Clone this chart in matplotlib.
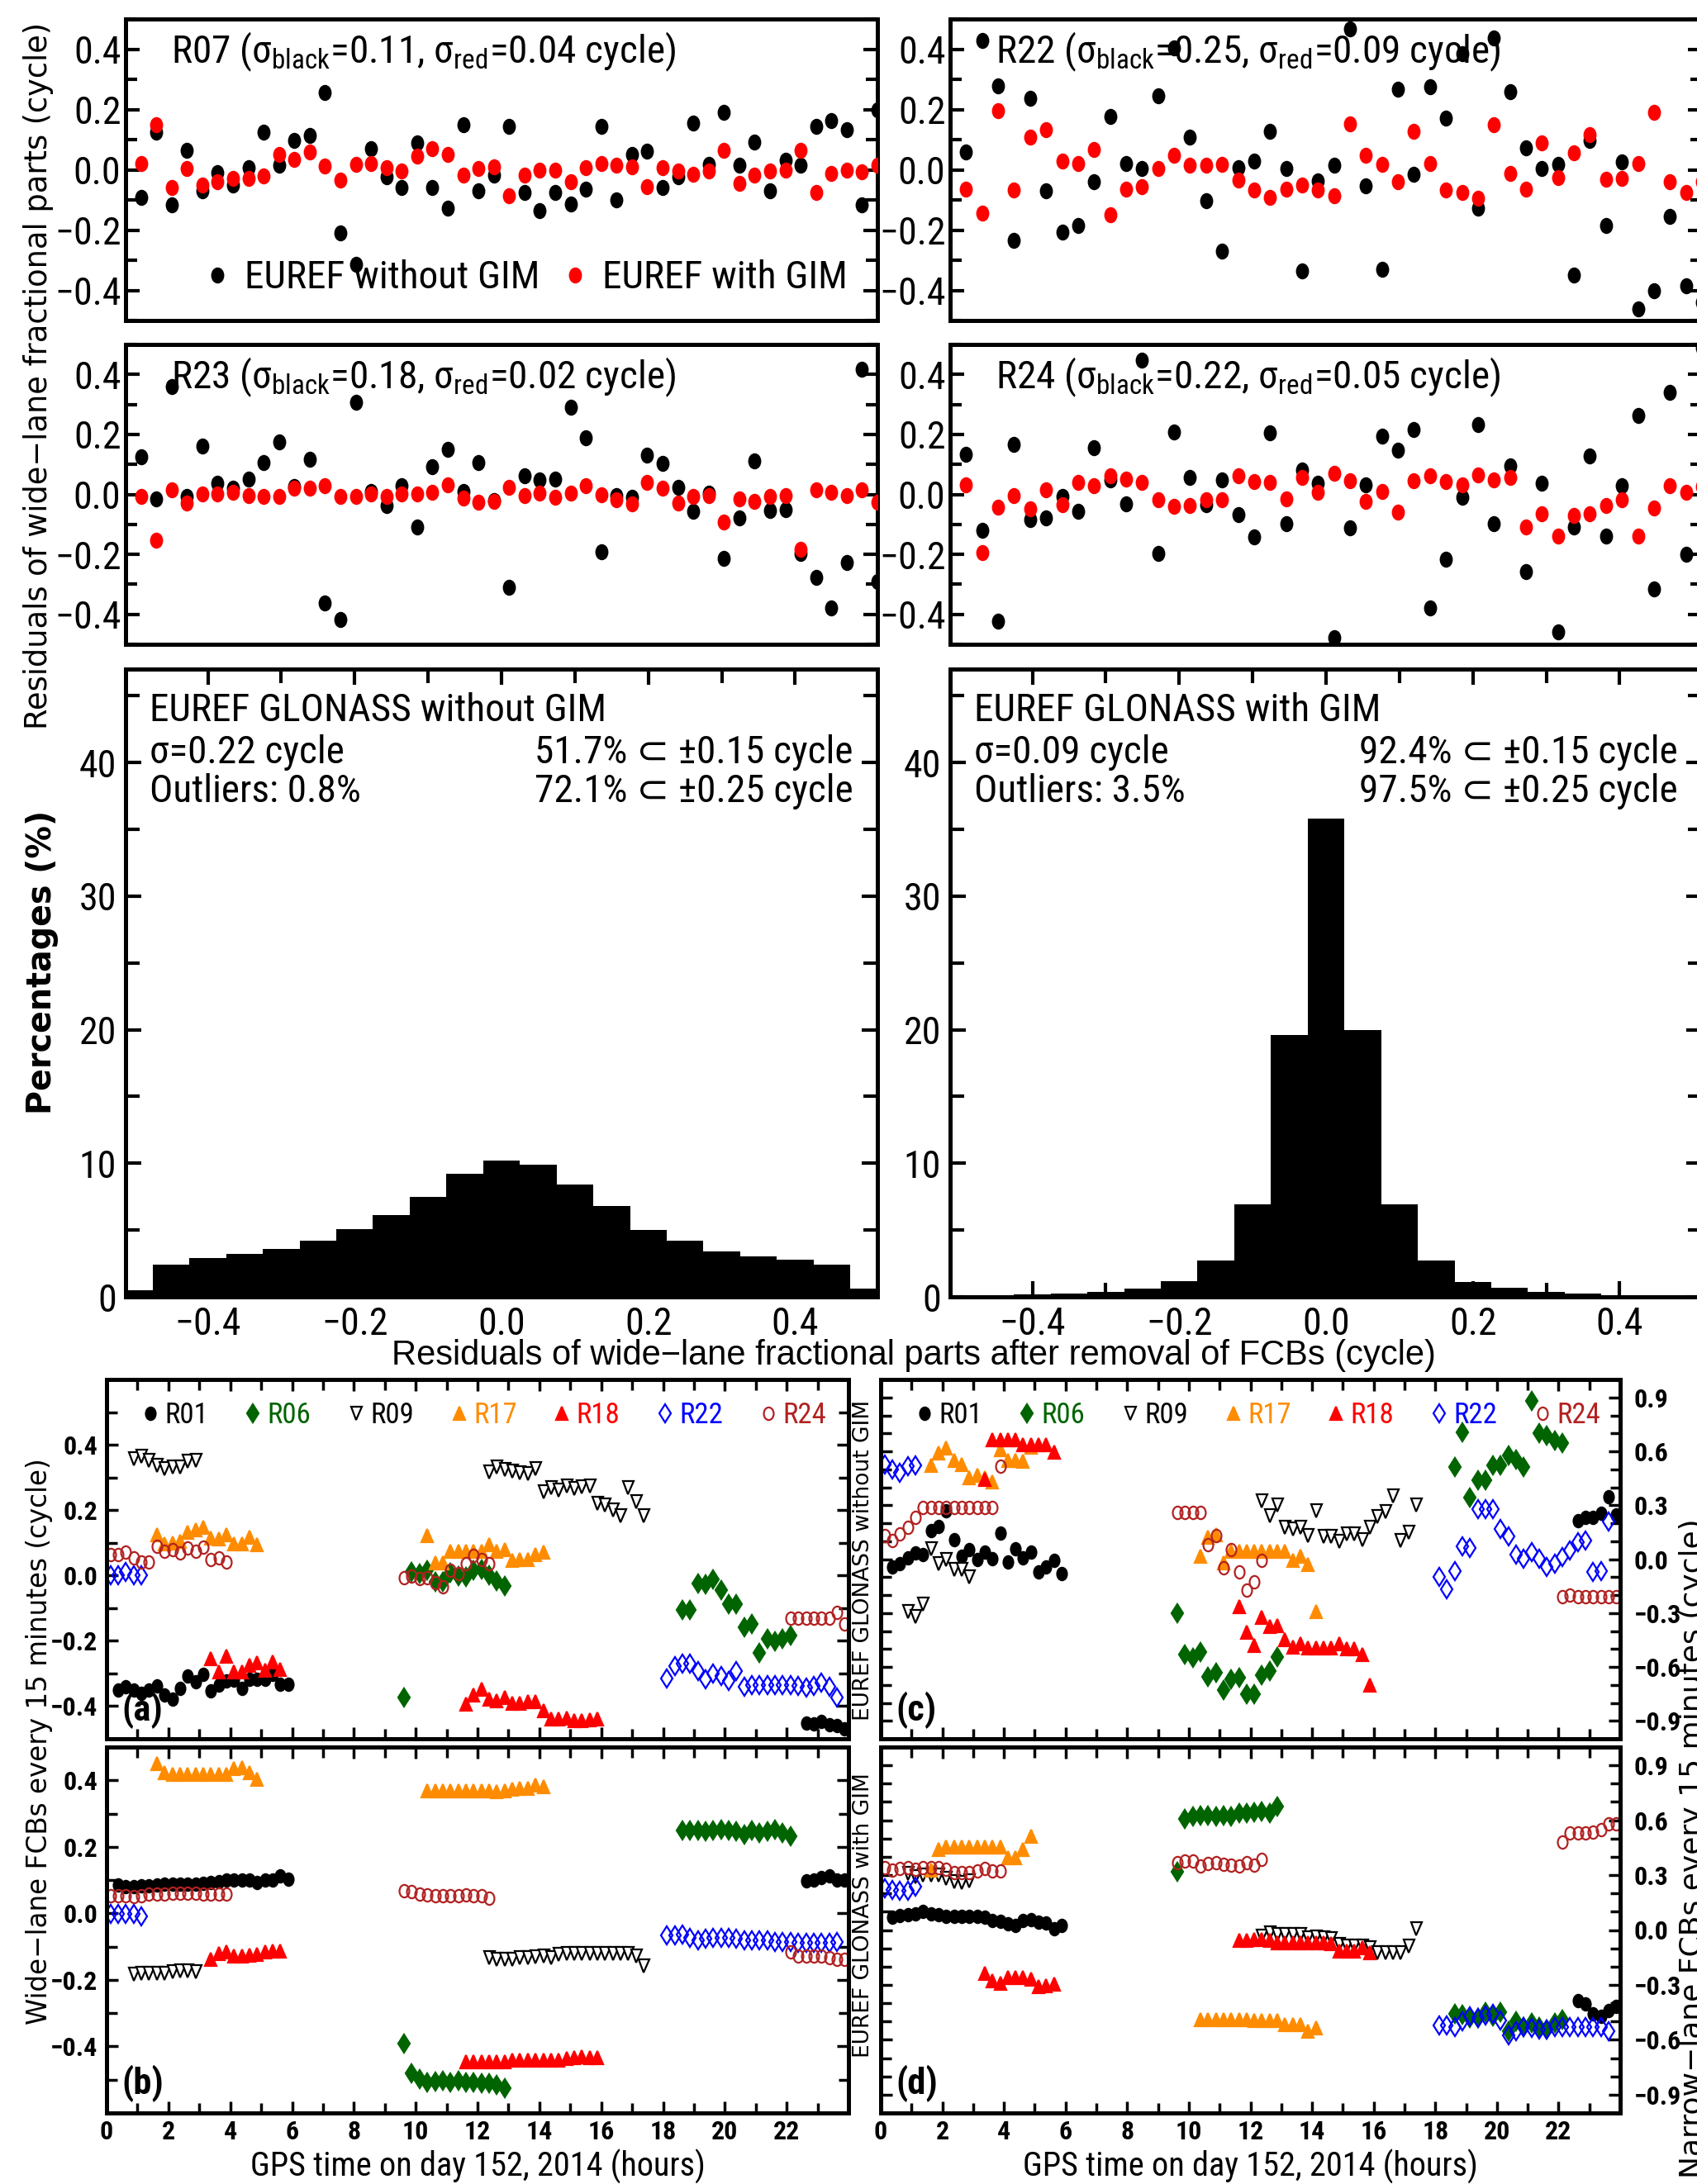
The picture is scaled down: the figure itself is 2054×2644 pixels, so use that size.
import numpy as np
import matplotlib
matplotlib.use("Agg")
import matplotlib.pyplot as plt
from matplotlib import font_manager as fm
from matplotlib.markers import MarkerStyle
from matplotlib.transforms import Affine2D
from matplotlib.ticker import MultipleLocator, FixedLocator

# look for a condensed sans face; fall back to Liberation Sans (narrower than DejaVu)
names = {f.name for f in fm.fontManager.ttflist}
NARROW_NAME, STRETCH, K = "Liberation Sans", "normal", 0.92
for cand in ["Liberation Sans Narrow", "Arial Narrow", "Nimbus Sans Narrow", "Roboto Condensed",
             "Open Sans Condensed", "Noto Sans Condensed", "DejaVu Sans Condensed"]:
    if cand in names:
        NARROW_NAME, K = cand, 1.0
        break
else:
    for fam in ["Noto Sans", "Open Sans", "Roboto", "DejaVu Sans"]:
        if any(f.name == fam and f.stretch in ("condensed", "semi-condensed") for f in fm.fontManager.ttflist):
            NARROW_NAME, STRETCH, K = fam, "condensed", 1.0
            break

NARROW = [NARROW_NAME, "DejaVu Sans"]
WIDE = ["DejaVu Sans"]
plt.rcParams["font.family"] = NARROW
plt.rcParams["font.stretch"] = STRETCH
plt.rcParams["mathtext.fontset"] = "custom"
plt.rcParams["mathtext.rm"] = NARROW_NAME + (":stretch=condensed" if STRETCH != "normal" else "")
plt.rcParams["axes.linewidth"] = 3.6

# === residuals of wide-lane fractional parts, per epoch ===
epochs_left = np.arange(1, 50)
epochs_right = np.arange(1, 48)

r07_black = [-0.092, 0.124, -0.117, 0.064, -0.069, -0.009, -0.052, 0.006, 0.124, 0.016,
             0.097, 0.115, 0.255, -0.210, -0.315, 0.069, -0.023, -0.060, 0.089, -0.060,
             -0.127, 0.150, -0.071, -0.018, 0.144, -0.076, -0.135, -0.074, -0.115, -0.064,
             0.144, -0.101, 0.051, 0.062, -0.060, -0.023, 0.154, 0.017, 0.191, 0.014,
             0.092, -0.069, 0.032, 0.014, 0.143, 0.164, 0.133, -0.117, 0.200]
r07_red = [0.021, 0.150, -0.060, 0.003, -0.051, -0.040, -0.028, -0.028, -0.021, 0.052,
           0.034, 0.060, 0.012, -0.034, 0.018, 0.020, 0.006, -0.003, 0.046, 0.071,
           0.052, -0.017, 0.003, 0.009, -0.085, -0.017, 0.000, 0.000, -0.039, 0.006,
           0.021, 0.016, 0.009, -0.055, 0.006, -0.003, -0.014, -0.003, 0.064, -0.046,
           -0.018, -0.003, 0.000, 0.064, -0.076, -0.011, 0.000, -0.006, 0.016]

r22_black = [0.060, 0.429, 0.278, -0.234, 0.238, -0.071, -0.207, -0.184, -0.040, 0.177,
             0.021, 0.003, 0.246, 0.405, 0.109, -0.103, -0.269, 0.006, 0.030, 0.127,
             0.005, -0.336, -0.038, 0.016, 0.466, -0.053, -0.331, 0.267, -0.014, 0.276,
             0.172, 0.386, -0.127, 0.437, 0.260, 0.072, 0.005, 0.018, -0.349, 0.097,
             -0.184, 0.025, -0.463, -0.402, -0.156, -0.386, -0.439]
r22_red = [-0.065, -0.144, 0.196, -0.067, 0.109, 0.133, 0.030, 0.021, 0.066, -0.150,
           -0.065, -0.057, 0.003, 0.049, 0.016, 0.016, 0.018, -0.034, -0.067, -0.093,
           -0.065, -0.051, -0.067, -0.085, 0.152, 0.049, 0.018, -0.040, 0.127, 0.021,
           -0.067, -0.076, -0.095, 0.150, -0.012, -0.064, 0.090, -0.026, 0.055, 0.117,
           -0.032, -0.029, 0.021, 0.191, -0.041, -0.074, -0.039]

r23_black = [0.126, -0.014, 0.360, -0.006, 0.161, 0.037, 0.020, 0.052, 0.105, 0.174,
             0.027, 0.117, -0.361, -0.416, 0.307, 0.011, -0.037, 0.028, -0.108, 0.092,
             0.149, 0.011, 0.107, -0.020, -0.310, 0.063, 0.048, 0.052, 0.291, 0.188,
             -0.191, -0.003, -0.010, 0.130, 0.103, 0.023, -0.056, 0.005, -0.214, -0.079,
             0.112, -0.055, -0.050, -0.197, -0.278, -0.379, -0.227, 0.417, -0.292]
r23_red = [-0.007, -0.152, 0.014, -0.030, 0.002, 0.002, 0.006, -0.003, -0.007, -0.006,
           0.020, 0.022, 0.029, -0.007, -0.006, 0.002, -0.006, 0.002, 0.002, 0.008,
           0.032, -0.012, -0.026, -0.023, 0.023, -0.003, 0.005, -0.010, 0.005, 0.028,
           -0.001, -0.019, -0.032, 0.039, 0.022, -0.028, -0.007, -0.003, -0.092, -0.014,
           -0.023, -0.007, -0.003, -0.183, 0.014, 0.006, -0.003, 0.014, -0.026]

r24_black = [0.133, -0.120, -0.424, 0.167, -0.085, -0.079, -0.007, -0.056, 0.157, 0.048,
             -0.033, 0.448, -0.197, 0.208, 0.057, -0.035, 0.048, -0.067, -0.142, 0.205,
             -0.097, 0.082, 0.037, -0.477, -0.111, 0.031, 0.194, 0.148, 0.215, -0.378,
             -0.216, -0.009, 0.234, -0.099, 0.095, -0.257, 0.038, -0.458, -0.108, 0.127,
             -0.138, 0.029, 0.263, -0.316, 0.341, -0.200, 0.488]
r24_red = [0.032, -0.193, -0.044, -0.003, -0.049, 0.016, -0.035, 0.040, 0.028, 0.063,
           0.050, 0.041, -0.018, -0.039, -0.037, -0.018, -0.018, 0.063, 0.043, 0.039,
           -0.015, 0.057, 0.008, 0.069, 0.046, -0.024, 0.011, -0.058, 0.046, 0.063,
           0.043, 0.031, 0.066, 0.048, 0.057, -0.110, -0.065, -0.140, -0.071, -0.064,
           -0.037, -0.018, -0.140, -0.046, 0.029, 0.008, 0.027]

# === histograms of residuals (percent per 0.05 cycle bin) ===
bin_centres = [-0.50, -0.45, -0.40, -0.35, -0.30, -0.25, -0.20, -0.15, -0.10, -0.05, 0.00,
               0.05, 0.10, 0.15, 0.20, 0.25, 0.30, 0.35, 0.40, 0.45, 0.50]
hist_nogim = [0.5, 2.4, 2.9, 3.2, 3.6, 4.2, 5.1, 6.1, 7.5, 9.2, 10.2,
              9.9, 8.4, 6.8, 5.0, 4.2, 3.4, 3.0, 2.8, 2.4, 0.6]
hist_gim = [0.03, 0.08, 0.2, 0.27, 0.4, 0.6, 1.2, 2.7, 6.9, 19.6, 35.8,
            20.0, 6.9, 2.7, 1.1, 0.67, 0.4, 0.27, 0.15, 0.1, 0.05]

# === FCBs every 15 minutes: satellite -> [(first epoch in hours, values), ...] ===
sats = ["R01", "R06", "R09", "R17", "R18", "R22", "R24"]

wl_nogim = {
    "R01": [(0.375, [-0.351, -0.340, -0.352, -0.361, -0.352, -0.338, -0.365, -0.379, -0.346, -0.309, -0.325, -0.304,
                     -0.354, -0.336, -0.323, -0.321, -0.346, -0.319, -0.319, -0.317, -0.302, -0.334, -0.334]),
            (22.625, [-0.451, -0.454, -0.448, -0.457, -0.459, -0.469])],
    "R06": [(9.625, [-0.373, 0.011, 0.007, 0.015, -0.020, -0.020, 0.009, -0.003, -0.004, 0.017, 0.019, 0.000,
                     -0.018, -0.032]),
            (18.625, [-0.106, -0.106, -0.025, -0.027, -0.012, -0.045, -0.089, -0.087, -0.159, -0.148, -0.237,
                      -0.194, -0.202, -0.194, -0.183])],
    "R09": [(0.875, [0.357, 0.364, 0.353, 0.336, 0.328, 0.332, 0.332, 0.349, 0.353]),
            (12.375, [0.317, 0.331, 0.324, 0.320, 0.314, 0.311, 0.328, 0.255, 0.270, 0.261, 0.275, 0.267, 0.272,
                      0.274, 0.220, 0.215, 0.200, 0.182, 0.270, 0.226, 0.184])],
    "R17": [(1.625, [0.125, 0.098, 0.100, 0.105, 0.132, 0.140, 0.147, 0.114, 0.111, 0.124, 0.098, 0.098, 0.117,
                     0.094]),
            (10.375, [0.122, 0.038, 0.038, 0.075, 0.075, 0.075, 0.075, 0.075, 0.094, 0.075, 0.080, 0.047, 0.050,
                      0.050, 0.063, 0.072])],
    "R18": [(3.375, [-0.254, -0.294, -0.248, -0.294, -0.294, -0.275, -0.267, -0.290, -0.266, -0.287]),
            (11.625, [-0.394, -0.367, -0.348, -0.379, -0.384, -0.373, -0.390, -0.390, -0.387, -0.387, -0.413,
                      -0.440, -0.440, -0.436, -0.444, -0.444, -0.442, -0.440])],
    "R22": [(0.125, [0.0, 0.0, 0.011, 0.0, 0.0]),
            (18.125, [-0.315, -0.277, -0.271, -0.271, -0.292, -0.319, -0.300, -0.309, -0.323, -0.292, -0.340,
                      -0.336, -0.336, -0.336, -0.336, -0.336, -0.336, -0.337, -0.342, -0.337, -0.329, -0.340,
                      -0.373])],
    "R24": [(0.125, [0.065, 0.065, 0.072, 0.055, 0.040, 0.040, 0.090, 0.075, 0.080, 0.069, 0.083, 0.073, 0.086,
                     0.048, 0.055, 0.040]),
            (9.625, [-0.006, -0.003, -0.010, -0.008, -0.023, -0.035, 0.015, 0.007, 0.036, 0.061, 0.050, 0.036]),
            (22.125, [-0.131, -0.131, -0.131, -0.131, -0.131, -0.131, -0.114, -0.148])],
}

wl_gim = {
    "R01": [(0.375, [0.086, 0.081, 0.081, 0.083, 0.084, 0.086, 0.087, 0.088, 0.088, 0.088, 0.088, 0.090, 0.093,
                     0.096, 0.099, 0.101, 0.101, 0.099, 0.094, 0.099, 0.099, 0.112, 0.103]),
            (22.625, [0.097, 0.101, 0.107, 0.112, 0.101, 0.099])],
    "R06": [(9.625, [-0.392, -0.480, -0.497, -0.508, -0.506, -0.504, -0.508, -0.504, -0.508, -0.508, -0.511,
                     -0.511, -0.515, -0.526]),
            (18.625, [0.250, 0.250, 0.250, 0.247, 0.250, 0.252, 0.250, 0.247, 0.236, 0.250, 0.243, 0.247, 0.252,
                      0.243, 0.232])],
    "R09": [(0.875, [-0.183, -0.181, -0.181, -0.181, -0.181, -0.176, -0.172, -0.172, -0.176]),
            (12.375, [-0.134, -0.137, -0.137, -0.137, -0.133, -0.133, -0.131, -0.128, -0.133, -0.124, -0.122,
                      -0.122, -0.122, -0.120, -0.120, -0.120, -0.120, -0.120, -0.120, -0.128, -0.159])],
    "R17": [(1.625, [0.451, 0.422, 0.419, 0.419, 0.419, 0.419, 0.419, 0.419, 0.419, 0.419, 0.435, 0.437, 0.422,
                     0.402]),
            (10.375, [0.369, 0.369, 0.369, 0.369, 0.369, 0.369, 0.369, 0.369, 0.369, 0.367, 0.369, 0.374, 0.376,
                      0.376, 0.387, 0.381])],
    "R18": [(3.375, [-0.137, -0.120, -0.117, -0.128, -0.128, -0.126, -0.124, -0.115, -0.113, -0.113]),
            (11.625, [-0.445, -0.445, -0.447, -0.447, -0.447, -0.447, -0.442, -0.442, -0.442, -0.442, -0.442,
                      -0.441, -0.441, -0.436, -0.434, -0.431, -0.434, -0.434])],
    "R22": [(0.125, [-0.002, -0.002, -0.002, -0.002, -0.008]),
            (18.125, [-0.067, -0.067, -0.064, -0.073, -0.082, -0.076, -0.073, -0.073, -0.073, -0.076, -0.080,
                      -0.082, -0.082, -0.082, -0.085, -0.085, -0.087, -0.089, -0.089, -0.089, -0.089, -0.089,
                      -0.085])],
    "R24": [(0.125, [0.053, 0.053, 0.053, 0.051, 0.053, 0.058, 0.058, 0.059, 0.061, 0.061, 0.061, 0.061, 0.059,
                     0.058, 0.059, 0.058]),
            (9.625, [0.068, 0.066, 0.058, 0.055, 0.052, 0.052, 0.052, 0.054, 0.055, 0.052, 0.052, 0.046]),
            (22.125, [-0.117, -0.128, -0.128, -0.128, -0.128, -0.133, -0.137, -0.137])],
}

nl_nogim = {
    "R01": [(0.375, [-0.043, -0.027, 0.008, 0.033, 0.023, 0.160, 0.181, 0.269, 0.110, 0.018, 0.053, 0.000, 0.041,
                     0.003, 0.145, -0.015, 0.059, 0.008, 0.038, -0.070, -0.043, -0.008, -0.081]),
            (22.625, [0.216, 0.231, 0.231, 0.257, 0.349, 0.247])],
    "R06": [(9.625, [-0.301, -0.533, -0.548, -0.518, -0.656, -0.633, -0.728, -0.671, -0.662, -0.750, -0.750,
                     -0.648, -0.621, -0.545]),
            (18.625, [0.513, 0.708, 0.342, 0.440, 0.440, 0.521, 0.521, 0.577, 0.556, 0.513, 0.881, 0.700, 0.688,
                      0.658, 0.645])],
    "R09": [(0.875, [-0.294, -0.321, -0.251, 0.056, -0.023, -0.002, -0.058, -0.058, -0.099]),
            (12.375, [0.323, 0.242, 0.300, 0.178, 0.170, 0.178, 0.132, 0.269, 0.125, 0.125, 0.099, 0.140, 0.140,
                      0.110, 0.175, 0.239, 0.266, 0.353, 0.102, 0.148, 0.300])],
    "R17": [(1.625, [0.521, 0.592, 0.619, 0.551, 0.525, 0.455, 0.467, 0.452, 0.429, 0.607, 0.551, 0.551, 0.543,
                     0.625]),
            (10.375, [0.018, 0.120, 0.135, -0.020, 0.044, 0.044, 0.044, 0.044, 0.044, 0.044, 0.044, 0.044, -0.005,
                      0.014, -0.032, -0.294])],
    "R18": [(3.375, [0.444, 0.665, 0.665, 0.665, 0.665, 0.635, 0.635, 0.635, 0.635, 0.597]),
            (11.625, [-0.263, -0.408, -0.479, -0.324, -0.373, -0.370, -0.446, -0.489, -0.469, -0.492, -0.492,
                      -0.492, -0.492, -0.469, -0.499, -0.499, -0.530, -0.702])],
    "R22": [(0.125, [0.528, 0.501, 0.479, 0.516, 0.521]),
            (18.125, [-0.099, -0.167, -0.065, 0.072, 0.064, 0.277, 0.277, 0.277, 0.170, 0.125, 0.026, 0.003, 0.041,
                      0.003, -0.043, -0.027, 0.011, 0.049, 0.094, 0.102, -0.073, -0.065, 0.209])],
    "R24": [(0.125, [0.132, 0.105, 0.140, 0.175, 0.231, 0.288, 0.288, 0.288, 0.288, 0.288, 0.288, 0.288, 0.288,
                     0.288, 0.288, 0.516]),
            (9.625, [0.259, 0.259, 0.259, 0.259, 0.082, 0.132, -0.047, 0.053, -0.073, -0.172, -0.126, -0.008]),
            (22.125, [-0.210, -0.199, -0.210, -0.210, -0.210, -0.210, -0.210, -0.210])],
}

nl_gim = {
    "R01": [(0.375, [0.071, 0.079, 0.084, 0.087, 0.100, 0.090, 0.084, 0.076, 0.076, 0.076, 0.076, 0.076, 0.068,
                     0.052, 0.047, 0.032, 0.027, 0.051, 0.058, 0.044, 0.039, 0.008, 0.024]),
            (22.625, [-0.387, -0.403, -0.458, -0.474, -0.438, -0.419])],
    "R06": [(9.625, [0.319, 0.605, 0.621, 0.627, 0.624, 0.621, 0.627, 0.621, 0.637, 0.640, 0.643, 0.648, 0.640,
                     0.675]),
            (18.625, [-0.458, -0.463, -0.479, -0.482, -0.447, -0.474, -0.447, -0.553, -0.498, -0.529, -0.506,
                      -0.529, -0.545, -0.506, -0.490])],
    "R09": [(0.875, [0.308, 0.292, 0.300, 0.300, 0.300, 0.280, 0.264, 0.261, 0.269]),
            (12.375, [-0.032, -0.016, -0.024, -0.024, -0.024, -0.024, -0.043, -0.039, -0.043, -0.047, -0.079,
                      -0.087, -0.087, -0.087, -0.095, -0.122, -0.122, -0.126, -0.126, -0.087, 0.008])],
    "R17": [(1.625, [0.327, 0.438, 0.453, 0.453, 0.453, 0.453, 0.453, 0.453, 0.453, 0.453, 0.395, 0.395, 0.442,
                     0.513]),
            (10.375, [-0.490, -0.490, -0.490, -0.490, -0.490, -0.490, -0.490, -0.495, -0.495, -0.495, -0.495,
                      -0.517, -0.517, -0.517, -0.553, -0.537])],
    "R18": [(3.375, [-0.237, -0.276, -0.292, -0.261, -0.258, -0.258, -0.269, -0.308, -0.305, -0.295]),
            (11.625, [-0.055, -0.055, -0.052, -0.052, -0.058, -0.068, -0.071, -0.071, -0.071, -0.071, -0.071,
                      -0.071, -0.074, -0.114, -0.114, -0.114, -0.095, -0.122])],
    "R22": [(0.125, [0.229, 0.221, 0.216, 0.213, 0.237]),
            (18.125, [-0.521, -0.521, -0.532, -0.498, -0.474, -0.482, -0.466, -0.458, -0.494, -0.577, -0.553,
                      -0.532, -0.537, -0.542, -0.545, -0.532, -0.532, -0.532, -0.532, -0.532, -0.532, -0.532,
                      -0.553])],
    "R24": [(0.125, [0.340, 0.327, 0.336, 0.343, 0.332, 0.340, 0.340, 0.343, 0.332, 0.316, 0.316, 0.316, 0.324,
                     0.336, 0.324, 0.324]),
            (9.625, [0.368, 0.379, 0.379, 0.352, 0.363, 0.368, 0.359, 0.355, 0.352, 0.368, 0.355, 0.384]),
            (22.125, [0.482, 0.532, 0.532, 0.532, 0.537, 0.548, 0.580, 0.580])],
}

# marker styles (markers in the original look squeezed horizontally)
squeeze = Affine2D().scale(0.78, 1.0)
thin = Affine2D().scale(0.62, 1.0)
sat_style = {
    "R01": dict(marker=MarkerStyle("o", transform=squeeze), color="black", mfc="black", ms=11),
    "R06": dict(marker=MarkerStyle("D", transform=thin), color="#006400", mfc="#006400", ms=11),
    "R09": dict(marker=MarkerStyle("v", transform=squeeze), color="black", mfc="white", ms=12),
    "R17": dict(marker=MarkerStyle("^", transform=squeeze), color="#ff8c00", mfc="#ff8c00", ms=12),
    "R18": dict(marker=MarkerStyle("^", transform=squeeze), color="#ff0000", mfc="#ff0000", ms=12),
    "R22": dict(marker=MarkerStyle("D", transform=thin), color="#0000ff", mfc="none", ms=11),
    "R24": dict(marker=MarkerStyle("o", transform=squeeze), color="#b22222", mfc="none", ms=11),
}

W, H = 2054, 2644
fig = plt.figure(figsize=(W / 100, H / 100), dpi=100)


def rect(x0, y0, x1, y1):
    return [x0 / W, 1 - y1 / H, (x1 - x0) / W, (y1 - y0) / H]


# === top: residual scatter panels ===
dot = MarkerStyle("o", transform=Affine2D().scale(0.8, 1.0))
FS = 34 * K     # panel texts
TK = 33 * K     # tick labels of upper panels


def residual_panel(r, epochs, black, red, name, sb, sr, xmax):
    ax = fig.add_axes(r)
    ax.plot(epochs, black, ls="none", marker=dot, ms=13, color="black", zorder=3,
            label="EUREF without GIM")
    ax.plot(epochs, red, ls="none", marker=dot, ms=13, color="#ff0000", zorder=3,
            label="EUREF with GIM")
    ax.set_xlim(0, xmax)
    ax.set_ylim(-0.5, 0.5)
    ax.set_xticks([])
    ax.yaxis.set_major_locator(MultipleLocator(0.2))
    ax.yaxis.set_minor_locator(MultipleLocator(0.1))
    ax.tick_params(axis="y", which="both", direction="in", left=True, right=True,
                   width=3, labelsize=TK, pad=4)
    ax.tick_params(axis="y", which="major", length=12)
    ax.tick_params(axis="y", which="minor", length=10)
    ax.text(0.06, 0.89, name + r" (σ$_{\mathrm{black}}$=" + sb + r", σ$_{\mathrm{red}}$=" + sr + " cycle)",
            transform=ax.transAxes, fontsize=FS, va="center", zorder=1)
    return ax


ax07 = residual_panel(rect(152, 23, 1062, 388), epochs_left, r07_black, r07_red, "R07", "0.11", "0.04", 49)
residual_panel(rect(1150, 23, 2060, 388), epochs_right, r22_black, r22_red, "R22", "0.25", "0.09", 47)
residual_panel(rect(152, 417, 1062, 780), epochs_left, r23_black, r23_red, "R23", "0.18", "0.02", 49)
residual_panel(rect(1150, 417, 2060, 780), epochs_right, r24_black, r24_red, "R24", "0.22", "0.05", 47)
ax07.legend(loc="lower left", bbox_to_anchor=(0.06, -0.035), ncol=2, frameon=False, fontsize=FS,
            handlelength=0.6, handletextpad=0.4, columnspacing=0.6, numpoints=1)

fig.text(47 / W, 1 - 455 / H, "Residuals of wide\u2212lane fractional parts (cycle)", family=WIDE,
         fontsize=26.5, rotation=90, ha="center", va="center")

# === middle: histograms ===
hist_info = [
    (rect(152, 810, 1062, 1570), hist_nogim, "EUREF GLONASS without GIM", "σ=0.22 cycle", "Outliers: 0.8%",
     "51.7% \u2282 \u00b10.15 cycle", "72.1% \u2282 \u00b10.25 cycle"),
    (rect(1150, 810, 2060, 1570), hist_gim, "EUREF GLONASS with GIM", "σ=0.09 cycle", "Outliers: 3.5%",
     "92.4% \u2282 \u00b10.15 cycle", "97.5% \u2282 \u00b10.25 cycle"),
]
for r, heights, title, sig, outl, p15, p25 in hist_info:
    ax = fig.add_axes(r)
    ax.bar(bin_centres, heights, width=0.05, color="black", linewidth=0)
    ax.set_xlim(-0.512, 0.512)
    ax.set_ylim(0, 47)
    ax.xaxis.set_major_locator(FixedLocator([-0.4, -0.2, 0.0, 0.2, 0.4]))
    ax.xaxis.set_minor_locator(FixedLocator([-0.3, -0.1, 0.1, 0.3]))
    ax.yaxis.set_major_locator(MultipleLocator(10))
    ax.yaxis.set_minor_locator(MultipleLocator(5))
    ax.tick_params(which="both", direction="in", top=True, right=True, width=3, labelsize=TK, pad=8)
    ax.tick_params(which="major", length=14)
    ax.tick_params(which="minor", length=12)
    ax.text(0.032, 0.934, title, transform=ax.transAxes, fontsize=FS, va="center")
    ax.text(0.032, 0.867, sig, transform=ax.transAxes, fontsize=FS, va="center")
    ax.text(0.032, 0.805, outl, transform=ax.transAxes, fontsize=FS, va="center")
    ax.text(0.968, 0.867, p15, transform=ax.transAxes, fontsize=FS, va="center", ha="right")
    ax.text(0.968, 0.805, p25, transform=ax.transAxes, fontsize=FS, va="center", ha="right")

fig.text(51 / W, 1 - 1165 / H, "Percentages (%)", family=WIDE, fontsize=28.5, weight="bold",
         rotation=90, ha="center", va="center")
fig.text(1106 / W, 1 - 1641 / H,
         "Residuals of wide\u2212lane fractional parts after removal of FCBs (cycle)",
         family=["Liberation Sans", "DejaVu Sans"], fontsize=30, ha="center", va="center")

# === bottom: FCB time series ===
TS = 23 * K


def fcb_panel(r, data, ylim, yticks, tag, right_labels, xlabels, legend):
    ax = fig.add_axes(r)
    handles = []
    for s in sats:
        st = sat_style[s]
        h = None
        for start, vals in data[s]:
            t = start + 0.25 * np.arange(len(vals))
            h, = ax.plot(t, vals, ls="none", marker=st["marker"], ms=st["ms"], mfc=st["mfc"],
                         mec=st["color"], mew=1.6, label=s)
        handles.append(h)
    ax.set_xlim(0, 24)
    ax.set_ylim(*ylim)
    ax.xaxis.set_major_locator(FixedLocator(list(range(0, 24, 2))))
    ax.xaxis.set_minor_locator(FixedLocator(list(range(1, 24, 2))))
    ax.yaxis.set_major_locator(FixedLocator(yticks))
    ax.yaxis.set_minor_locator(MultipleLocator(0.1))
    ax.tick_params(which="both", direction="in", top=True, right=True, bottom=True, left=True,
                   width=2.5, labelsize=TS)
    ax.tick_params(which="major", length=10)
    ax.tick_params(which="minor", length=9)
    ax.tick_params(axis="x", labelbottom=xlabels, pad=6)
    if right_labels:
        ax.tick_params(axis="y", labelleft=False, labelright=True, pad=12)
    else:
        ax.tick_params(axis="y", pad=8)
    for lab in ax.get_xticklabels() + ax.get_yticklabels():
        lab.set_fontweight("bold")
    if xlabels:
        ax.set_xlabel("GPS time on day 152, 2014 (hours)", fontsize=29 * K, labelpad=4)
    ax.text(0.02, 0.08, tag, transform=ax.transAxes, fontsize=32 * K, weight="bold", va="center")
    if legend:
        ax.legend(handles=handles, loc="upper left", bbox_to_anchor=(0.022, 0.985), ncol=7, frameon=False,
                  fontsize=25 * K, handlelength=0.7, handletextpad=0.15, columnspacing=1.22, numpoints=1,
                  labelcolor="markeredgecolor", borderaxespad=0.2)
    return ax


wl_ticks = [-0.4, -0.2, 0.0, 0.2, 0.4]
nl_ticks = [-0.9, -0.6, -0.3, 0.0, 0.3, 0.6, 0.9]
fcb_panel(rect(129, 1670, 1027, 2105), wl_nogim, (-0.5, 0.6), wl_ticks, "(a)", False, False, True)
fcb_panel(rect(129, 2115, 1027, 2558), wl_gim, (-0.6, 0.5), wl_ticks, "(b)", False, True, False)
fcb_panel(rect(1066, 1670, 1961, 2105), nl_nogim, (-1.0, 1.0), nl_ticks, "(c)", True, False, True)
fcb_panel(rect(1066, 2115, 1961, 2558), nl_gim, (-1.0, 1.0), nl_ticks, "(d)", True, True, False)

fig.text(48 / W, 1 - 2108 / H, "Wide\u2212lane FCBs every 15 minutes (cycle)", family=WIDE, fontsize=23.5,
         rotation=90, ha="center", va="center")
fig.text(2032 / W, 1 - 2238 / H, "Narrow\u2212lane FCBs every 15 minutes (cycle)", family=WIDE, fontsize=26,
         rotation=90, ha="left", va="center")
fig.text(1045 / W, 1 - 1889 / H, "EUREF GLONASS without GIM", family=WIDE, fontsize=19,
         rotation=90, ha="center", va="center")
fig.text(1045 / W, 1 - 2319 / H, "EUREF GLONASS with GIM", family=WIDE, fontsize=19,
         rotation=90, ha="center", va="center")

fig.savefig("out.png", dpi=100)
